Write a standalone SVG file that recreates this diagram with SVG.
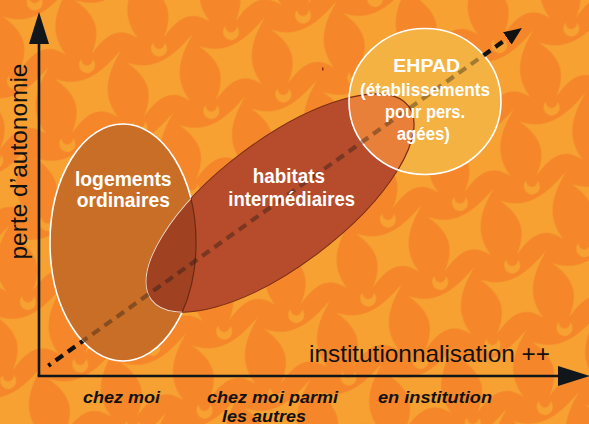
<svg xmlns="http://www.w3.org/2000/svg" width="589" height="424" viewBox="0 0 589 424">
<defs>
<style>
.lbl{font-family:"Liberation Sans",Arial,sans-serif;font-weight:bold;fill:#fff;text-anchor:middle}
.cat{font-family:"Liberation Sans",Arial,sans-serif;font-weight:bold;font-style:italic;font-size:17px;fill:#111;text-anchor:middle}
.axl{font-family:"Liberation Sans",Arial,sans-serif;font-size:24px;fill:#111}
.fig{fill:#f6a132}
.axis{stroke:#10161a;stroke-width:2.6;fill:none}
</style>
<g id="fig" class="fig">
<path d="M30,-46 C13.95,-18.27 11.7,0.78 27,21 C10.39,10.67 -2.46,13.62 -19,37 C-9.78,14.69 -13.08,-0.66 -36,-17 C-13.62,-9.44 4.68,-15.84 30,-46 Z"/>
<path d="M-9.43,-36.88 A8 8 0 1 0 1.43,-36.88 A5.5 5.5 0 1 1 -9.43,-36.88 Z"/>
</g>
<pattern id="bgp" patternUnits="userSpaceOnUse" width="100" height="100" patternTransform="matrix(0.72,-0.165,-0.197,0.79,64.85,64.75)">
<rect x="-1" y="-1" width="102" height="102" fill="#f5872a"/>
<use href="#fig" transform="translate(-50,-50) matrix(1.4731,0.3077,0.3673,1.3425,0,0)"/>
<use href="#fig" transform="translate(50,-50) matrix(1.4731,0.3077,0.3673,1.3425,0,0)"/>
<use href="#fig" transform="translate(150,-50) matrix(1.4731,0.3077,0.3673,1.3425,0,0)"/>
<use href="#fig" transform="translate(-50,50) matrix(1.4731,0.3077,0.3673,1.3425,0,0)"/>
<use href="#fig" transform="translate(50,50) matrix(1.4731,0.3077,0.3673,1.3425,0,0)"/>
<use href="#fig" transform="translate(150,50) matrix(1.4731,0.3077,0.3673,1.3425,0,0)"/>
<use href="#fig" transform="translate(-50,150) matrix(1.4731,0.3077,0.3673,1.3425,0,0)"/>
<use href="#fig" transform="translate(50,150) matrix(1.4731,0.3077,0.3673,1.3425,0,0)"/>
<use href="#fig" transform="translate(150,150) matrix(1.4731,0.3077,0.3673,1.3425,0,0)"/>
</pattern>
<ellipse id="shL" cx="123" cy="242.5" rx="73" ry="118.5"/>
<ellipse id="shH" cx="280" cy="203" rx="161" ry="63" transform="rotate(-37 280 203)"/>
<ellipse id="shE" cx="425" cy="101.5" rx="76" ry="73"/>
<clipPath id="cL"><use href="#shL"/></clipPath>
<clipPath id="cH"><use href="#shH"/></clipPath>
<clipPath id="cE"><use href="#shE"/></clipPath>
<mask id="dimMask" maskUnits="userSpaceOnUse" x="0" y="0" width="589" height="424" color-interpolation="sRGB">
<rect width="589" height="424" fill="#fff"/>
<use href="#shL" fill="#5a5a5a"/>
<use href="#shH" fill="#5a5a5a"/>
<use href="#shE" fill="#5a5a5a"/>
</mask>
<marker id="axHead" viewBox="0 0 32 20" refX="0" refY="10" markerWidth="32" markerHeight="20" markerUnits="userSpaceOnUse" orient="auto">
<path d="M0,0 L32,10 L0,20 Z" fill="#10161a"/>
</marker>
<marker id="dashHead" viewBox="0 0 18 15" refX="0" refY="7.5" markerWidth="18" markerHeight="15" markerUnits="userSpaceOnUse" orient="auto">
<path d="M0,0 L18,7.5 L0,15 Z" fill="#111"/>
</marker>
</defs>

<rect id="background" width="589" height="424" fill="url(#bgp)"/>
<rect x="322" y="67.5" width="1.5" height="3" fill="#8b2d12"/>

<g id="axes">
<path class="axis" d="M39,376 L39,44" marker-end="url(#axHead)"/>
<path class="axis" d="M37.7,376 L558,376" marker-end="url(#axHead)"/>
<text class="axl" transform="translate(27,161.5) rotate(-90)" text-anchor="middle" textLength="196" lengthAdjust="spacingAndGlyphs">perte d’autonomie</text>
<text class="axl" x="309" y="362" textLength="241" lengthAdjust="spacingAndGlyphs">institutionnalisation ++</text>
</g>

<g id="node-logements">
<use href="#shL" fill="#c96e27" stroke="#fff" stroke-width="1.6"/>
</g>

<g id="node-habitats">
<use href="#shH" fill="#b64c2c" stroke="#7a2c14" stroke-width="1"/>
<g clip-path="url(#cH)">
<use href="#shL" fill="#a04222" stroke="#6a2a12" stroke-width="1.2"/>
</g>
<g clip-path="url(#cL)">
<use href="#shH" fill="none" stroke="#f3d6c0" stroke-width="1"/>
</g>
</g>

<g id="node-ehpad">
<use href="#shE" fill="#f4b243"/>
<g clip-path="url(#cE)">
<use href="#shH" fill="#e8803a" stroke="#7a2c14" stroke-width="1.2"/>
</g>
<use href="#shE" fill="none" stroke="#fff" stroke-width="1.6"/>
</g>

<g id="connectors">
<path d="M48.3,365.7 L507.3,38.4" stroke="#111" stroke-width="4.2" stroke-dasharray="9 6" stroke-dashoffset="6" fill="none" mask="url(#dimMask)" marker-end="url(#dashHead)"/>
</g>

<g id="labels-nodes">
<text class="lbl" font-size="20" x="123.3" y="186" textLength="96.7" lengthAdjust="spacingAndGlyphs">logements</text>
<text class="lbl" font-size="20" x="123.3" y="207" textLength="93.3" lengthAdjust="spacingAndGlyphs">ordinaires</text>
<text class="lbl" font-size="20" x="288.8" y="183" textLength="72.3" lengthAdjust="spacingAndGlyphs">habitats</text>
<text class="lbl" font-size="20" x="291.7" y="206" textLength="126.7" lengthAdjust="spacingAndGlyphs">intermédiaires</text>
<text class="lbl" font-size="19" x="426.7" y="72" textLength="66.7" lengthAdjust="spacingAndGlyphs">EHPAD</text>
<text class="lbl" font-size="19" x="425" y="96" textLength="130" lengthAdjust="spacingAndGlyphs">(établissements</text>
<text class="lbl" font-size="19" x="425" y="118.3" textLength="80" lengthAdjust="spacingAndGlyphs">pour pers.</text>
<text class="lbl" font-size="19" x="423.3" y="139.5" textLength="53.3" lengthAdjust="spacingAndGlyphs">agées)</text>
</g>

<g id="labels-categories">
<text class="cat" x="121.5" y="403" textLength="77" lengthAdjust="spacingAndGlyphs">chez moi</text>
<text class="cat" x="272.5" y="403" textLength="131" lengthAdjust="spacingAndGlyphs">chez moi parmi</text>
<text class="cat" x="264" y="421.5" textLength="84" lengthAdjust="spacingAndGlyphs">les autres</text>
<text class="cat" x="435" y="403" textLength="114" lengthAdjust="spacingAndGlyphs">en institution</text>
</g>
</svg>
